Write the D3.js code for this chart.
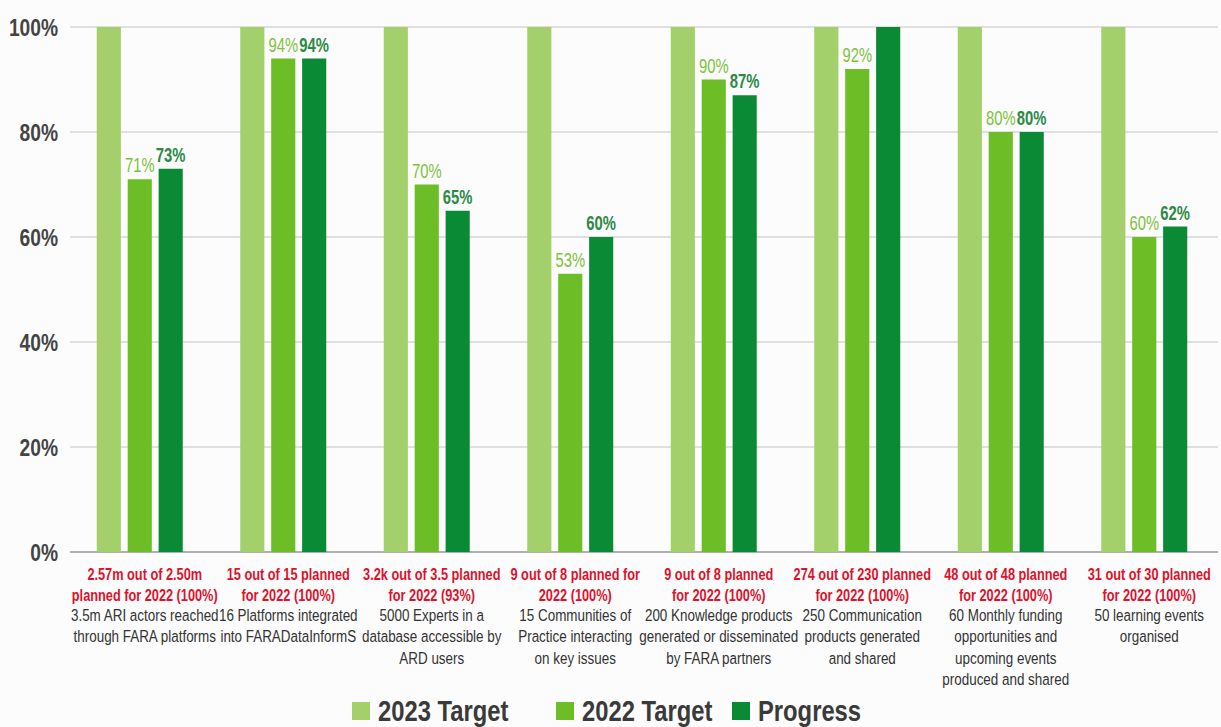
<!DOCTYPE html>
<html>
<head>
<meta charset="utf-8">
<script src="https://cdn.jsdelivr.net/npm/d3@7"></script>
<style>
  body { margin: 0; background: #fcfcfc; }
  svg { display: block; }
  text { font-family: "Liberation Sans", Arial, sans-serif; }
</style>
</head>
<body>
<svg width="1221" height="727"></svg>
<script>
var categories = ["c1", "c2", "c3", "c4", "c5", "c6", "c7", "c8"];
var series = ["2023 Target", "2022 Target", "Progress"];
var target2023 = [100, 100, 100, 100, 100, 100, 100, 100];
var target2022 = [71, 94, 70, 53, 90, 92, 80, 60];
var progress = [73, 94, 65, 60, 87, 100, 80, 62];
var label2022 = ["71%", "94%", "70%", "53%", "90%", "92%", "80%", "60%"];
var labelProgress = ["73%", "94%", "65%", "60%", "87%", "", "80%", "62%"];
var yTicks = [0, 20, 40, 60, 80, 100];

var redLines = [
    ["2.57m out of 2.50m", "planned for 2022 (100%)"],
    ["15 out of 15 planned", "for 2022 (100%)"],
    ["3.2k out of 3.5 planned", "for 2022 (93%)"],
    ["9 out of 8 planned for", "2022 (100%)"],
    ["9 out of 8 planned", "for 2022 (100%)"],
    ["274 out of 230 planned", "for 2022 (100%)"],
    ["48 out of 48 planned", "for 2022 (100%)"],
    ["31 out of 30 planned", "for 2022 (100%)"]
];
var greyLines = [
    ["3.5m ARI actors reached", "through FARA platforms"],
    ["16 Platforms integrated", "into FARADataInformS"],
    ["5000 Experts in a", "database accessible by", "ARD users"],
    ["15 Communities of", "Practice interacting", "on key issues"],
    ["200 Knowledge products", "generated or disseminated", "by FARA partners"],
    ["250  Communication", "products generated", "and shared"],
    ["60 Monthly funding", "opportunities and", "upcoming events", "produced and shared"],
    ["50 learning events", "organised"]
];

var colors = ["#a3d06b", "#6dbd26", "#0a8a34"];
var labelColors = [null, "#7cc23c", "#2b8a45"];

var svg = d3.select("svg"),
    margin = {top: 27, right: 3, bottom: 175, left: 70},
    width = +svg.attr("width") - margin.left - margin.right,
    height = +svg.attr("height") - margin.top - margin.bottom;

// condensed text: a group squeezed horizontally (no narrow font installed)
function narrow(parent, x, y, sx) {
    return parent.append("g")
        .attr("transform", "translate(" + x + "," + y + ") scale(" + sx + ",1)");
}

var g = svg.append("g")
    .attr("transform", "translate(" + margin.left + "," + margin.top + ")");

var x0 = d3.scaleBand().domain(categories).range([0, width]);
var groupW = 86;
var x1 = d3.scaleBand().domain(series).range([0, groupW]).paddingInner(0.22);
var y = d3.scaleLinear().domain([0, 100]).range([height, 0]);

// grid
g.selectAll(".grid")
    .data(yTicks)
    .enter().append("line")
    .attr("x1", 0).attr("x2", width)
    .attr("y1", function (d) { return y(d); })
    .attr("y2", function (d) { return y(d); })
    .attr("stroke", function (d) { return d === 0 ? "#999" : "#c4c4c4"; })
    .attr("stroke-width", function (d) { return d === 0 ? 1.5 : 1; });

// y tick labels
yTicks.forEach(function (d) {
    narrow(svg, 58, margin.top + y(d), 0.8)
        .append("text")
        .attr("dy", "0.36em")
        .attr("text-anchor", "end")
        .attr("font-size", 24)
        .attr("font-weight", "bold")
        .attr("fill", "#444")
        .text(d + "%");
});

var rows = categories.map(function (c, i) {
    return {
        cat: c,
        vals: [
            {s: series[0], v: target2023[i], lab: ""},
            {s: series[1], v: target2022[i], lab: label2022[i]},
            {s: series[2], v: progress[i], lab: labelProgress[i]}
        ]
    };
});

var groups = g.selectAll(".group")
    .data(rows)
    .enter().append("g")
    .attr("transform", function (d) {
        return "translate(" + (x0(d.cat) + (x0.bandwidth() - groupW) / 2 - 2) + ",0)";
    });

groups.selectAll("rect")
    .data(function (d) { return d.vals; })
    .enter().append("rect")
    .attr("x", function (d) { return x1(d.s); })
    .attr("y", function (d) { return y(d.v); })
    .attr("width", x1.bandwidth())
    .attr("height", function (d) { return height - y(d.v); })
    .attr("fill", function (d, i) { return colors[i]; });

groups.each(function (row) {
    var grp = d3.select(this);
    row.vals.forEach(function (d, i) {
        if (!d.lab) return;
        narrow(grp, x1(d.s) + x1.bandwidth() / 2, y(d.v) - 7, 0.76)
            .append("text")
            .attr("text-anchor", "middle")
            .attr("font-size", 19.5)
            .attr("font-weight", i === 2 ? "bold" : "normal")
            .attr("fill", labelColors[i])
            .text(d.lab);
    });
});

// category labels
rows.forEach(function (d, i) {
    var cx = x0(d.cat) + x0.bandwidth() / 2 + 3;
    redLines[i].forEach(function (t, j) {
        narrow(g, cx, height + 28 + j * 20.5, 0.75)
            .append("text")
            .attr("text-anchor", "middle")
            .attr("font-size", 17)
            .attr("font-weight", "bold")
            .attr("fill", "#e0102a")
            .text(t);
    });
    greyLines[i].forEach(function (t, j) {
        narrow(g, cx, height + 69 + j * 21.3, 0.79)
            .append("text")
            .attr("text-anchor", "middle")
            .attr("font-size", 17)
            .attr("fill", "#333")
            .text(t);
    });
});

// legend
var legendX = [352, 556, 732];
series.forEach(function (d, i) {
    var lg = svg.append("g")
        .attr("transform", "translate(" + legendX[i] + ",702)");
    lg.append("rect")
        .attr("width", 18).attr("height", 18)
        .attr("fill", colors[i]);
    narrow(lg, 26, 9, 0.82)
        .append("text")
        .attr("dy", "0.36em")
        .attr("font-size", 29)
        .attr("font-weight", "bold")
        .attr("fill", "#3a3a3a")
        .text(d);
});
</script>
</body>
</html>
